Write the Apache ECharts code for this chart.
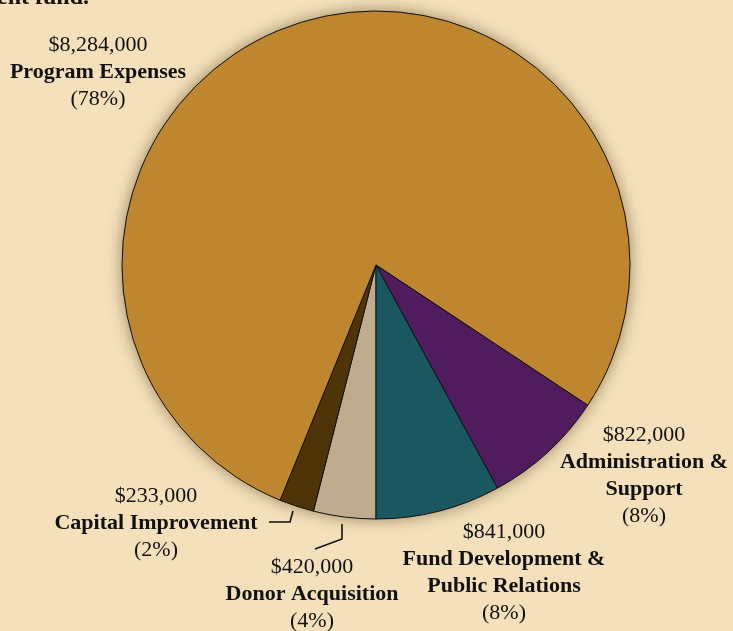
<!DOCTYPE html>
<html>
<head>
<meta charset="utf-8">
<script src="https://cdn.jsdelivr.net/npm/echarts@6/dist/echarts.min.js"></script>
<style>
html,body{margin:0;padding:0;background:#f4e1bb;}
#c{width:733px;height:631px;}
</style>
</head>
<body>
<div id="c"></div>
<script>
// Data (clockwise from 6 o'clock)
const categories = ['Donor Acquisition', 'Capital Improvement', 'Program Expenses', 'Administration & Support', 'Fund Development & Public Relations'];
const nameLines = [['Donor Acquisition'], ['Capital Improvement'], ['Program Expenses'], ['Administration &', 'Support'], ['Fund Development &', 'Public Relations']];
const values = [420000, 233000, 8284000, 822000, 841000];
const colors = ['#bfac8e', '#4f3407', '#bd862f', '#511c5e', '#1a5760'];

// label placement (layout only)
const labelPos = {
  'Donor Acquisition': [312, 594],
  'Capital Improvement': [156, 523],
  'Program Expenses': [98, 72],
  'Administration & Support': [644, 476],
  'Fund Development & Public Relations': [504, 573]
};
const leader = {
  'Donor Acquisition': [[342, 524], [342, 539], [315, 549]],
  'Capital Improvement': [[293, 511], [290, 522], [269, 522]]
};

const chart = echarts.init(document.getElementById('c'));
const serif = '"Liberation Serif", "DejaVu Serif", serif';
const total = values.reduce((a, b) => a + b, 0);

chart.setOption({
  backgroundColor: '#f4e1bb',
  graphic: [{
    type: 'text', x: -3, y: 10,
    style: { text: 'ent fund.', font: '600 24px ' + serif, fill: '#1a1208', verticalAlign: 'bottom' }
  }],
  series: [{
    // soft drop shadow underneath the whole pie
    type: 'pie',
    center: [376, 265],
    radius: [0, 254],
    silent: true,
    animation: false,
    label: { show: false },
    labelLine: { show: false },
    itemStyle: { color: '#bd862f', borderWidth: 0, shadowBlur: 16, shadowColor: 'rgba(70,45,10,0.55)' },
    data: [{ name: 'total', value: total }],
    z: 1
  }, {
    type: 'pie',
    center: [376, 265],
    radius: [0, 254],
    startAngle: -90,
    clockwise: true,
    avoidLabelOverlap: false,
    animation: false,
    z: 2,
    itemStyle: { borderColor: '#111', borderWidth: 1 },
    emphasis: { disabled: true },
    label: {
      show: true,
      position: 'outside',
      fontFamily: serif,
      color: '#111',
      formatter: function (p) {
        const names = nameLines[p.dataIndex].map(s => '{n|' + s + '}').join('\n');
        return '{v|$' + p.value.toLocaleString('en-US') + '}\n' + names + '\n{v|(' + Math.round(p.percent) + '%)}';
      },
      rich: {
        v: { fontFamily: serif, fontSize: 22, lineHeight: 27, color: '#111', align: 'center' },
        n: { fontFamily: serif, fontSize: 22, fontWeight: 'bold', lineHeight: 27, color: '#111', align: 'center' }
      }
    },
    labelLine: { show: false, lineStyle: { color: '#111', width: 1.6 } },
    labelLayout: function (params) {
      if (params.seriesIndex !== 1) return {};
      const name = categories[params.dataIndex];
      const pos = labelPos[name];
      const r = { x: pos[0], y: pos[1], align: 'center', verticalAlign: 'middle' };
      if (leader[name]) r.labelLinePoints = leader[name];
      return r;
    },
    data: categories.map((c, i) => ({
      name: c, value: values[i],
      itemStyle: { color: colors[i] },
      labelLine: { show: !!leader[c], showAbove: true }
    }))
  }]
});
</script>
</body>
</html>
